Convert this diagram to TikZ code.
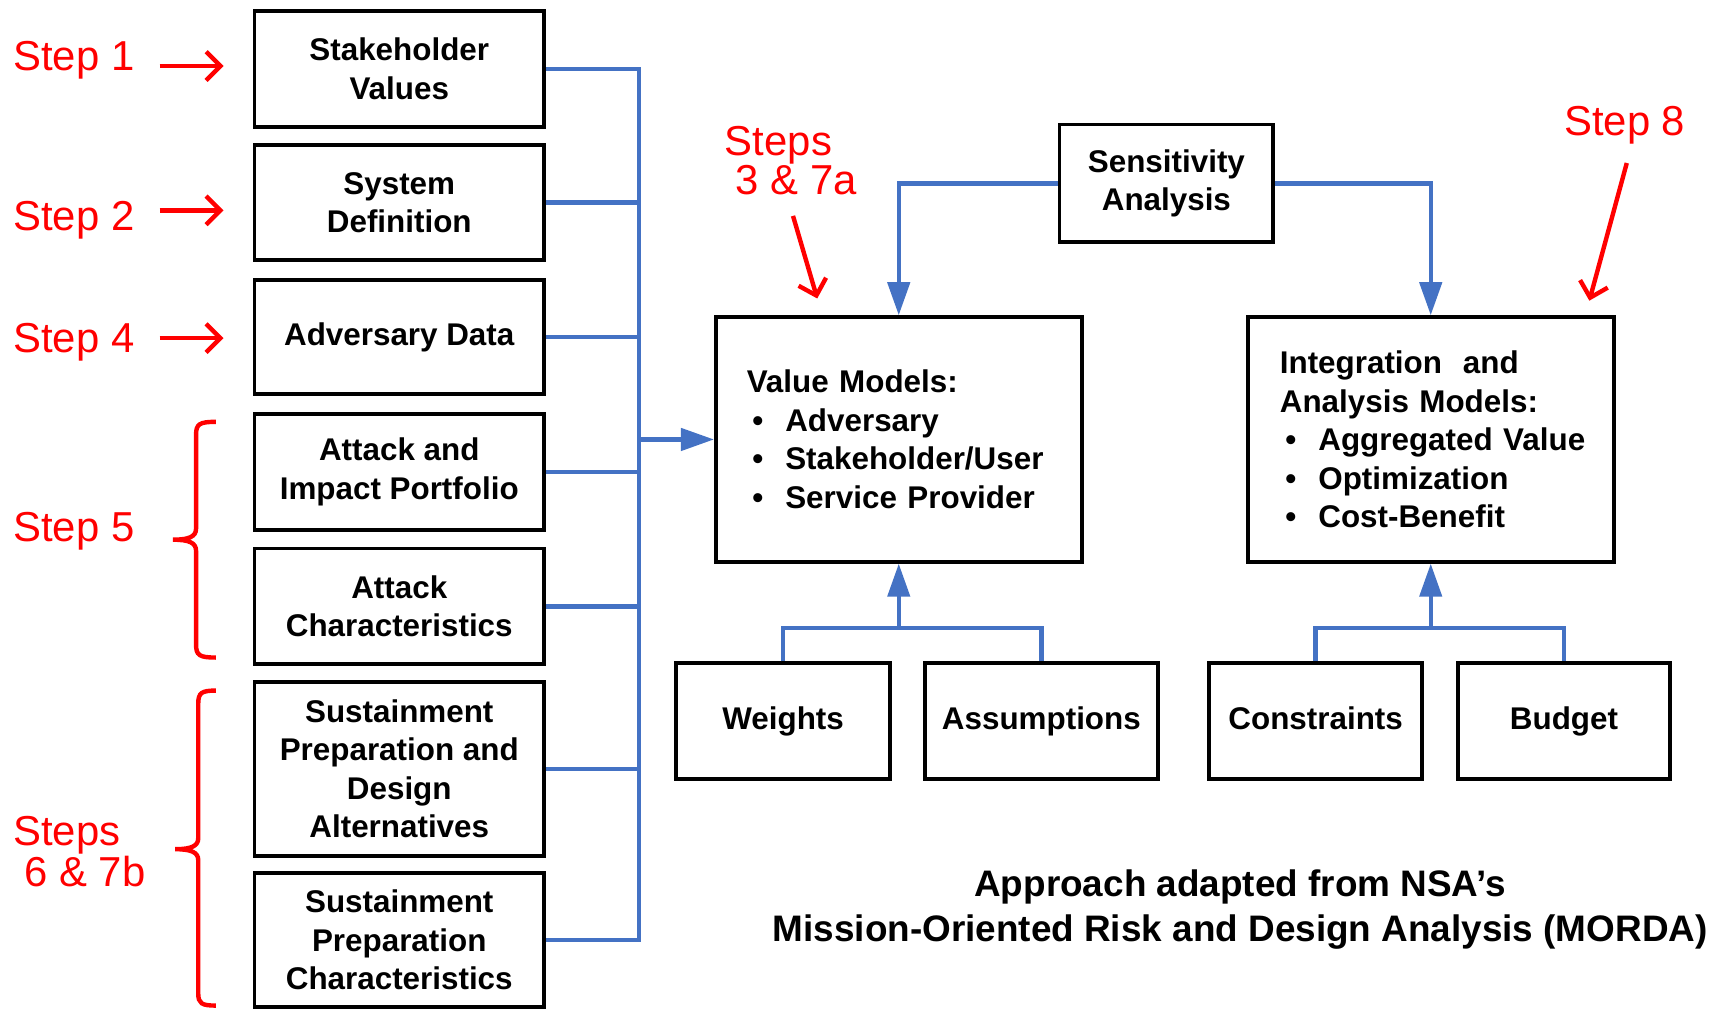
\documentclass[tikz,border=0pt]{standalone}
\usepackage{fontspec}
\setmainfont{Liberation Sans}
\usetikzlibrary{arrows.meta}
\definecolor{linkblue}{RGB}{68,114,196}
\definecolor{stepred}{RGB}{255,0,0}
\newcommand\itembul{\makebox[35pt][l]{\hspace{5pt}\textbullet}}
\begin{document}
\begin{tikzpicture}[x=1pt,y=-1pt,
 box/.style={draw=black, line width=3.5pt, fill=white, inner sep=0pt, align=center,
   font=\fontsize{28.5}{35}\selectfont\bfseries},
 oneline/.style={text height=21pt, text depth=6pt},
 conn/.style={draw=linkblue, line width=4pt},
 connarrow/.style={conn, -{Triangle[length=30pt,width=20pt]}},
 steplabel/.style={text=stepred, inner sep=0pt, anchor=base west, font=\fontsize{38}{36}\selectfont},
 steparrow/.style={draw=stepred, line width=4pt, -{Straight Barb[length=13pt,width=26pt]}},
 bracket/.style={draw=stepred, line width=4pt},
]
\useasboundingbox (0,0) rectangle (1568,916);
\fill[white] (0,0) rectangle (1568,916);

% left column of boxes
\node[box, minimum width=263pt, minimum height=105pt] (b1) at (362.5,62.5) {Stakeholder\\Values};
\node[box, minimum width=263pt, minimum height=104pt] (b2) at (362.5,184) {System\\Definition};
\node[box, oneline, minimum width=263pt, minimum height=104pt] (b3) at (362.5,306) {Adversary Data};
\node[box, minimum width=263pt, minimum height=105pt] (b4) at (362.5,428.5) {Attack and\\Impact Portfolio};
\node[box, minimum width=263pt, minimum height=105pt] (b5) at (362.5,550.5) {Attack\\Characteristics};
\node[box, minimum width=263pt, minimum height=158pt] (b6) at (362.5,698) {Sustainment\\Preparation and\\Design\\Alternatives};
\node[box, minimum width=263pt, minimum height=121pt] (b7) at (362.5,853.5) {Sustainment\\Preparation\\Characteristics};

% central boxes
\node[box, minimum width=194pt, minimum height=107pt] (sa) at (1059,166.5) {Sensitivity\\Analysis};
\node[box, minimum width=332pt, minimum height=222pt, text width=276pt, align=left] (vm) at (816,399)
  {Value Models:\\\itembul Adversary\\\itembul Stakeholder/User\\\itembul Service Provider};
\node[box, minimum width=332pt, minimum height=222pt, text width=274pt, align=left] (iam) at (1299,399)
  {Integration\ \ and\\Analysis Models:\\\mbox{\itembul Aggregated Value}\\\itembul Optimization\\\itembul Cost-Benefit};

% bottom boxes
\node[box, oneline, minimum width=194pt, minimum height=105pt] (w) at (711,654.5) {Weights};
\node[box, oneline, minimum width=211pt, minimum height=105pt] (as) at (945.5,654.5) {Assumptions};
\node[box, oneline, minimum width=193pt, minimum height=105pt] (co) at (1194.5,654.5) {Constraints};
\node[box, oneline, minimum width=192pt, minimum height=105pt] (bu) at (1420,654.5) {Budget};

% title
\node[inner sep=0pt, align=center, font=\fontsize{33.5}{41}\selectfont\bfseries] (title) at (1126,826)
  {Approach adapted from NSA’s\\Mission-Oriented Risk and Design Analysis (MORDA)};

% blue connectors
\coordinate (bus) at (580,399);
\draw[conn] (b1.east) -| (bus) |- (b7.east);
\foreach \b in {b2,b3,b4,b5,b6} \draw[conn] (\b.east) -- (\b.east -| bus);
\draw[connarrow] (bus) -- (bus -| vm.west);

\draw[connarrow] (sa.west) -| (vm.north);
\draw[connarrow] (sa.east) -| (iam.north);

\coordinate (jv) at (816,570);
\coordinate (ji) at (1299,570);
\draw[conn] (w.north) |- (as.north |- jv) -- (as.north);
\draw[connarrow] (jv) -- (vm.south);
\draw[conn] (co.north) |- (bu.north |- ji) -- (bu.north);
\draw[connarrow] (ji) -- (iam.south);

% red step labels
\node[steplabel] (s1) at (12,64) {Step 1};
\node[steplabel] (s2) at (12,209) {Step 2};
\node[steplabel] (s4) at (12,320) {Step 4};
\node[steplabel] (s5) at (12,492) {Step 5};
\node[steplabel] (s6a) at (12,768) {Steps};
\node[steplabel] (s6b) at (22,805) {6 \& 7b};
\node[steplabel] (s3a) at (658,141) {Steps};
\node[steplabel] (s3b) at (668,177) {3 \& 7a};
\node[steplabel] (s8) at (1420,123) {Step 8};

% red arrows
\coordinate (a1s) at (145,60);  \coordinate (a1e) at (203,60);
\coordinate (a2s) at (145,191); \coordinate (a2e) at (203,191);
\coordinate (a4s) at (145,307); \coordinate (a4e) at (203,307);
\coordinate (a3s) at (720,196); \coordinate (a3e) at (742,271);
\coordinate (a8s) at (1477,148); \coordinate (a8e) at (1443,273);
\draw[steparrow] (a1s) -- (a1e);
\draw[steparrow] (a2s) -- (a2e);
\draw[steparrow] (a4s) -- (a4e);
\draw[steparrow] (a3s) -- (a3e);
\draw[steparrow] (a8s) -- (a8e);

% red brackets
\draw[bracket] (196,383) .. controls (181,383) and (178,385) .. (178,395) -- (178,480)
  .. controls (178,487) and (172,490) .. (157,490)
  .. controls (172,490) and (178,493) .. (178,500) -- (178,585)
  .. controls (178,595) and (181,597) .. (196,597);
\draw[bracket] (196,627) .. controls (183,627) and (180,629) .. (180,639) -- (180,761)
  .. controls (180,768) and (174,771) .. (159,771)
  .. controls (174,771) and (180,774) .. (180,781) -- (180,902)
  .. controls (180,911) and (183,913) .. (196,913);
\end{tikzpicture}
\end{document}
